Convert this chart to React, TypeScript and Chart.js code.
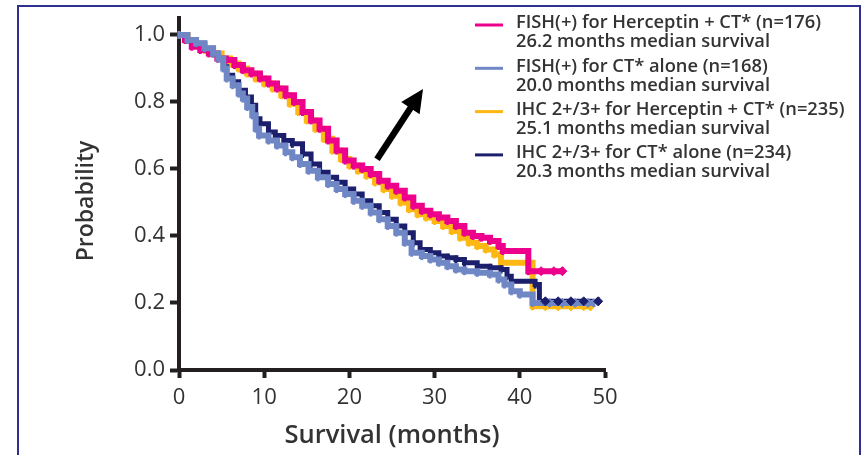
import React, { useEffect, useRef } from "react";
import { Chart, registerables } from "chart.js";

Chart.register(...registerables);

const FONT = '"Open Sans", "Noto Sans", "DejaVu Sans", sans-serif';
const AXIS = "#231f20";
const TEXT = "#333333";

// ---- data (Kaplan-Meier step points: time in months, survival probability) ----
const xTickValues = [0, 10, 20, 30, 40, 50];
const yTickValues = [0, 0.2, 0.4, 0.6, 0.8, 1.0];

const pinkTime = [0, 0.7, 1.5, 2.5, 3.5, 4.5, 5.5, 6.5, 7.5, 8.5, 9.5, 10.5, 11.5, 12.5, 13.5, 14.5, 15.5, 16.5, 17.5, 18.5, 19.5, 20.5, 21.5, 22.5, 23.5, 24.5, 25.5, 26.5, 27.5, 28.5, 29.5, 30.5, 31.5, 32.5, 33.5, 34.5, 35.5, 36.5, 37.5, 38, 41, 45];
const pinkSurv = [1.0, 0.985, 0.965, 0.955, 0.945, 0.93, 0.925, 0.91, 0.895, 0.885, 0.87, 0.855, 0.84, 0.82, 0.8, 0.77, 0.745, 0.72, 0.685, 0.655, 0.625, 0.61, 0.6, 0.585, 0.565, 0.55, 0.535, 0.515, 0.49, 0.475, 0.465, 0.455, 0.445, 0.43, 0.41, 0.4, 0.395, 0.385, 0.37, 0.355, 0.295, 0.295];

const orangeTime = [0, 1, 2, 3, 4, 5, 6, 7, 8, 9, 10, 11, 12, 13, 14, 15, 16, 17, 18, 19, 20, 21, 22, 23, 24, 25, 26, 27, 28, 29, 30, 31, 32, 33, 34, 35, 36, 37, 37.8, 41.5, 48.3];
const orangeSurv = [1.0, 0.985, 0.97, 0.955, 0.945, 0.93, 0.915, 0.9, 0.885, 0.87, 0.855, 0.84, 0.82, 0.795, 0.77, 0.745, 0.72, 0.69, 0.655, 0.63, 0.61, 0.595, 0.58, 0.56, 0.54, 0.52, 0.5, 0.48, 0.465, 0.455, 0.445, 0.43, 0.415, 0.395, 0.38, 0.37, 0.36, 0.345, 0.32, 0.19, 0.19];

const lightTime = [0, 1, 2, 3, 4, 4.6, 5.2, 5.6, 6.3, 7, 7.5, 8, 8.6, 9, 9.4, 10.5, 11.5, 12.5, 13.3, 14.2, 15.2, 16.3, 17.5, 18.5, 19.5, 20.5, 21.5, 22.5, 23.5, 24.5, 25.5, 26.5, 27.3, 28.5, 29.5, 30.5, 31.5, 32.5, 33.5, 35, 36.5, 37.5, 38.2, 39, 40, 41.5, 48.7];
const lightSurv = [1.0, 0.985, 0.975, 0.96, 0.945, 0.93, 0.9, 0.87, 0.85, 0.825, 0.81, 0.785, 0.76, 0.72, 0.7, 0.685, 0.67, 0.65, 0.635, 0.615, 0.595, 0.575, 0.555, 0.54, 0.525, 0.505, 0.49, 0.47, 0.45, 0.43, 0.41, 0.38, 0.35, 0.34, 0.33, 0.32, 0.31, 0.3, 0.295, 0.29, 0.285, 0.27, 0.255, 0.235, 0.225, 0.2, 0.2];

const navyTime = [0, 1, 2, 3, 4, 4.6, 5.2, 5.6, 6.3, 7, 7.8, 8.5, 9, 9.5, 10.5, 11.3, 12.3, 13.3, 14.5, 15.5, 16.5, 17.5, 18.5, 19.5, 20.5, 21.5, 22.5, 23.5, 24.5, 25.5, 26.5, 27.5, 28.3, 29.5, 30.5, 31.5, 32.5, 33.5, 35, 36.5, 37.8, 38.5, 39, 41.8, 42.3, 49.2];
const navySurv = [1.0, 0.985, 0.975, 0.96, 0.945, 0.93, 0.905, 0.88, 0.86, 0.835, 0.815, 0.79, 0.75, 0.735, 0.71, 0.7, 0.685, 0.675, 0.645, 0.615, 0.59, 0.575, 0.56, 0.54, 0.525, 0.505, 0.49, 0.47, 0.45, 0.43, 0.41, 0.38, 0.36, 0.35, 0.34, 0.335, 0.33, 0.32, 0.31, 0.305, 0.3, 0.28, 0.265, 0.255, 0.205, 0.205];

// censoring marks on the late, flat tails
const pinkCensor = [42.5, 44, 45];
const orangeCensor = [43, 44.5, 46, 47.5, 48.3];
const lightCensor = [43.5, 45, 46.5, 48];
const navyCensor = [43, 44.5, 46, 47.5, 49.2];

const legendTitles = [
  "FISH(+) for Herceptin + CT* (n=176)",
  "FISH(+) for CT* alone (n=168)",
  "IHC 2+/3+ for Herceptin + CT* (n=235)",
  "IHC 2+/3+ for CT* alone (n=234)",
];
const legendMedians = [
  "26.2 months median survival",
  "20.0 months median survival",
  "25.1 months median survival",
  "20.3 months median survival",
];
const seriesColors = ["#ec008c", "#7087c6", "#fdb813", "#1c1f6c"];

const arrowTail = [23.24, 0.629];
const arrowTip = [28.64, 0.839];

const toPoints = (t: number[], s: number[]) => t.map((x, i) => ({ x, y: s[i] }));

// survival value at time x for a step curve
const survAt = (t: number[], s: number[], x: number) => {
  let v = s[0];
  for (let i = 0; i < t.length; i++) if (t[i] <= x) v = s[i];
  return v;
};

const overlayPlugin = {
  id: "overlay",
  afterDraw(chart: any) {
    const { ctx } = chart;
    const xs = chart.scales.x;
    const ys = chart.scales.y;
    ctx.save();

    // arrow
    const x0 = xs.getPixelForValue(arrowTail[0]);
    const y0 = ys.getPixelForValue(arrowTail[1]);
    const x1 = xs.getPixelForValue(arrowTip[0]);
    const y1 = ys.getPixelForValue(arrowTip[1]);
    const ang = Math.atan2(y1 - y0, x1 - x0);
    const headLen = 23;
    const headHalf = 11;
    const bx = x1 - headLen * Math.cos(ang);
    const by = y1 - headLen * Math.sin(ang);
    ctx.strokeStyle = "#000";
    ctx.fillStyle = "#000";
    ctx.lineWidth = 6.5;
    ctx.lineCap = "butt";
    ctx.beginPath();
    ctx.moveTo(x0, y0);
    ctx.lineTo(bx + 2 * Math.cos(ang), by + 2 * Math.sin(ang));
    ctx.stroke();
    ctx.beginPath();
    ctx.moveTo(x1, y1);
    ctx.lineTo(bx - headHalf * Math.sin(ang), by + headHalf * Math.cos(ang));
    ctx.lineTo(bx + headHalf * Math.sin(ang), by - headHalf * Math.cos(ang));
    ctx.closePath();
    ctx.fill();

    // y axis title
    ctx.fillStyle = TEXT;
    ctx.font = `600 23px ${FONT}`;
    ctx.textAlign = "center";
    ctx.textBaseline = "middle";
    ctx.translate(86, 201);
    ctx.rotate(-Math.PI / 2);
    ctx.fillText("Probability", 0, 0);
    ctx.setTransform(1, 0, 0, 1, 0, 0);

    // legend
    ctx.font = `600 18.3px ${FONT}`;
    ctx.textAlign = "left";
    ctx.textBaseline = "middle";
    for (let i = 0; i < legendTitles.length; i++) {
      const yTop = 23 + i * 43.3;
      ctx.strokeStyle = seriesColors[i];
      ctx.lineWidth = 3;
      ctx.beginPath();
      ctx.moveTo(475, yTop + 2);
      ctx.lineTo(503, yTop + 2);
      ctx.stroke();
      ctx.fillStyle = TEXT;
      ctx.fillText(legendTitles[i], 516, yTop);
      ctx.fillText(legendMedians[i], 516, yTop + 19);
    }
    ctx.restore();
  },
};

export default function App() {
  const ref = useRef<HTMLCanvasElement | null>(null);

  useEffect(() => {
    if (!ref.current) return;
    const ds = (label: string, t: number[], s: number[], color: string, w: number) => ({
      label,
      data: toPoints(t, s),
      borderColor: color,
      backgroundColor: color,
      borderWidth: w,
      stepped: true,
      pointStyle: "line",
      pointRotation: 90,
      pointRadius: 4,
      pointBorderWidth: 3,
      pointBorderColor: color,
      fill: false,
      clip: false,
    });
    const cens = (label: string, c: number[], t: number[], s: number[], color: string) => ({
      label,
      type: "scatter",
      data: c.map((x) => ({ x, y: survAt(t, s, x) })),
      borderColor: color,
      backgroundColor: color,
      pointStyle: "rectRot",
      pointRadius: 4.5,
      pointBorderWidth: 1,
      showLine: false,
      clip: false,
    });
    const chart = new Chart(ref.current, {
      type: "line",
      data: {
        datasets: [
          cens("censor-navy", navyCensor, navyTime, navySurv, seriesColors[3]),
          ds(legendTitles[1], lightTime, lightSurv, seriesColors[1], 6),
          cens("censor-light", lightCensor, lightTime, lightSurv, seriesColors[1]),
          ds(legendTitles[3], navyTime, navySurv, seriesColors[3], 5),
          cens("censor-pink", pinkCensor, pinkTime, pinkSurv, seriesColors[0]),
          ds(legendTitles[0], pinkTime, pinkSurv, seriesColors[0], 6),
          cens("censor-orange", orangeCensor, orangeTime, orangeSurv, seriesColors[2]),
          ds(legendTitles[2], orangeTime, orangeSurv, seriesColors[2], 6),
        ] as any,
      },
      options: {
        responsive: false,
        animation: false,
        devicePixelRatio: 1,
        layout: { padding: { left: 0, top: 11, right: 260, bottom: 0 } },
        plugins: { legend: { display: false }, tooltip: { enabled: false } },
        scales: {
          x: {
            type: "linear",
            min: 0,
            max: 50,
            border: { display: true, color: AXIS, width: 4 },
            grid: { drawOnChartArea: false, drawTicks: true, tickLength: 8, tickWidth: 4, tickColor: AXIS },
            ticks: {
              stepSize: 10,
              color: TEXT,
              font: { family: FONT, size: 22 },
              padding: 7,
              callback: (v: any) => String(v),
            },
            afterBuildTicks: (s: any) => {
              s.ticks = xTickValues.map((v) => ({ value: v }));
            },
            title: {
              display: true,
              text: "Survival (months)",
              color: TEXT,
              font: { family: FONT, size: 25.5, weight: "600" },
              padding: { top: 0, bottom: 4 },
            },
            afterFit: (s: any) => {
              s.height = 85;
            },
          },
          y: {
            type: "linear",
            min: 0,
            max: 1.05,
            border: { display: true, color: AXIS, width: 4 },
            grid: { drawOnChartArea: false, drawTicks: true, tickLength: 9, tickWidth: 4, tickColor: AXIS },
            ticks: {
              color: TEXT,
              font: { family: FONT, size: 22 },
              padding: 5,
              autoSkip: false,
              callback: (v: any) => Number(v).toFixed(1),
            },
            afterBuildTicks: (s: any) => {
              s.ticks = yTickValues.map((v) => ({ value: v }));
            },
            afterFit: (s: any) => {
              s.width = 179;
            },
          },
        },
      },
      plugins: [overlayPlugin],
    });
    return () => chart.destroy();
  }, []);

  return (
    <div style={{ position: "fixed", left: 0, top: 0, width: 865, height: 455, background: "#fff", overflow: "hidden" }}>
      <canvas ref={ref} width={865} height={455} style={{ position: "absolute", left: 0, top: 0, width: 865, height: 455 }} />
      <div
        style={{
          position: "absolute",
          left: 17,
          top: 5,
          width: 844,
          height: 470,
          boxSizing: "border-box",
          borderLeft: "2px solid #2e3192",
          borderTop: "2px solid #2e3192",
          borderRight: "2px solid #2e3192",
          pointerEvents: "none",
        }}
      />
    </div>
  );
}
